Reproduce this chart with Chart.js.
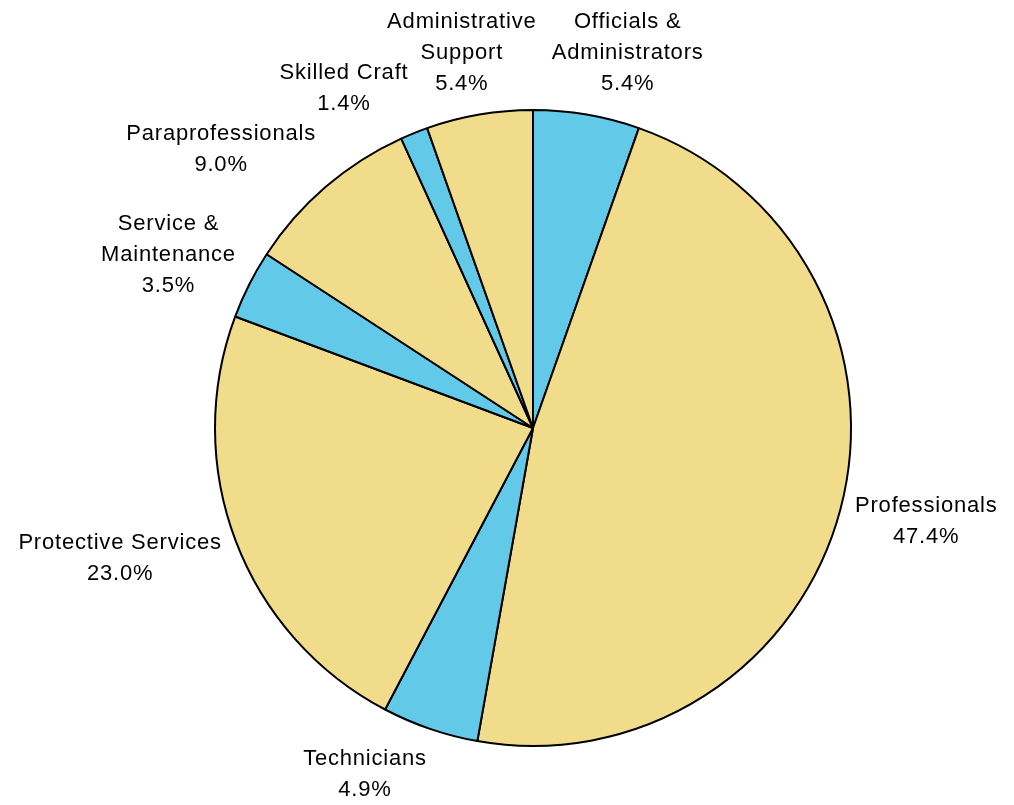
<!DOCTYPE html>
<html>
<head>
<meta charset="utf-8">
<script src="https://cdn.jsdelivr.net/npm/chart.js@4"></script>
<style>
  html, body { margin: 0; padding: 0; background: #ffffff; }
  #wrap { width: 1014px; height: 805px; position: relative; }
</style>
</head>
<body>
<div id="wrap"><canvas id="pie" width="1014" height="805"></canvas></div>
<script>
// Workforce by job category (share of total, %), clockwise from 12 o'clock
const categories = [
  ['Officials &', 'Administrators'],
  ['Professionals'],
  ['Technicians'],
  ['Protective Services'],
  ['Service &', 'Maintenance'],
  ['Paraprofessionals'],
  ['Skilled Craft'],
  ['Administrative', 'Support']
];
const shares = [5.4, 47.4, 4.9, 23.0, 3.5, 9.0, 1.4, 5.4];
const sliceColors = ['#62C9E8', '#F0DC8A', '#62C9E8', '#F0DC8A', '#62C9E8', '#F0DC8A', '#62C9E8', '#F0DC8A'];

// Draws "name / value%" blocks just outside each slice, nudging a block
// sideways when one of its lines would run into a line of an earlier block
const outsideLabels = {
  id: 'outsideLabels',
  afterDatasetsDraw(chart) {
    const ctx = chart.ctx;
    const meta = chart.getDatasetMeta(0);
    const lineH = 31;
    const textH = 22;
    const gap = 15;
    const pad = 12;
    ctx.save();
    ctx.font = '22px "Liberation Sans", Arial, sans-serif';
    ctx.letterSpacing = '0.8px';
    ctx.fillStyle = '#000000';
    ctx.textAlign = 'center';
    ctx.textBaseline = 'middle';

    const placed = [];
    meta.data.forEach((arc, i) => {
      const p = arc.getProps(['x', 'y', 'startAngle', 'endAngle', 'outerRadius'], true);
      const mid = (p.startAngle + p.endAngle) / 2;
      const texts = categories[i].concat([shares[i].toFixed(1) + '%']);
      const widths = texts.map(t => ctx.measureText(t).width);
      const w = Math.max(...widths);
      const h = texts.length * lineH;
      const r = p.outerRadius + gap;
      const hf = Math.max(-1, Math.min(1, Math.cos(mid) * 3));
      const vf = Math.max(-1, Math.min(1, Math.sin(mid) * 1.1));
      let cx = p.x + r * Math.cos(mid) + (w / 2) * hf;
      const cy = p.y + r * Math.sin(mid) + (h / 2) * vf;
      const lines = texts.map((t, k) => ({
        text: t, w: widths[k], y: cy - h / 2 + lineH / 2 + k * lineH
      }));

      // push away from earlier blocks whose lines collide with this one
      for (let iter = 0; iter < 10; iter++) {
        let shift = 0;
        placed.forEach(other => {
          other.lines.forEach(ol => {
            lines.forEach(l => {
              if (Math.abs(l.y - ol.y) >= textH) return;
              const left = cx - l.w / 2, right = cx + l.w / 2;
              const oLeft = other.cx - ol.w / 2, oRight = other.cx + ol.w / 2;
              if (right + pad <= oLeft || left >= oRight + pad) return;
              const s = cx >= other.cx ? (oRight + pad - left) : -(right + pad - oLeft);
              if (Math.abs(s) > Math.abs(shift)) shift = s;
            });
          });
        });
        if (shift === 0) break;
        cx += shift;
      }

      placed.push({ cx, lines });
      lines.forEach(l => ctx.fillText(l.text, cx, l.y));
    });
    ctx.restore();
  }
};

new Chart(document.getElementById('pie'), {
  type: 'pie',
  data: {
    labels: categories,
    datasets: [{
      data: shares,
      backgroundColor: sliceColors,
      borderColor: '#000000',
      borderWidth: 2,
      borderAlign: 'center'
    }]
  },
  options: {
    responsive: false,
    animation: false,
    radius: 318,
    layout: { padding: { left: 215, right: 163, top: 110, bottom: 59 } },
    plugins: {
      legend: { display: false },
      tooltip: { enabled: false }
    }
  },
  plugins: [outsideLabels]
});
</script>
</body>
</html>
